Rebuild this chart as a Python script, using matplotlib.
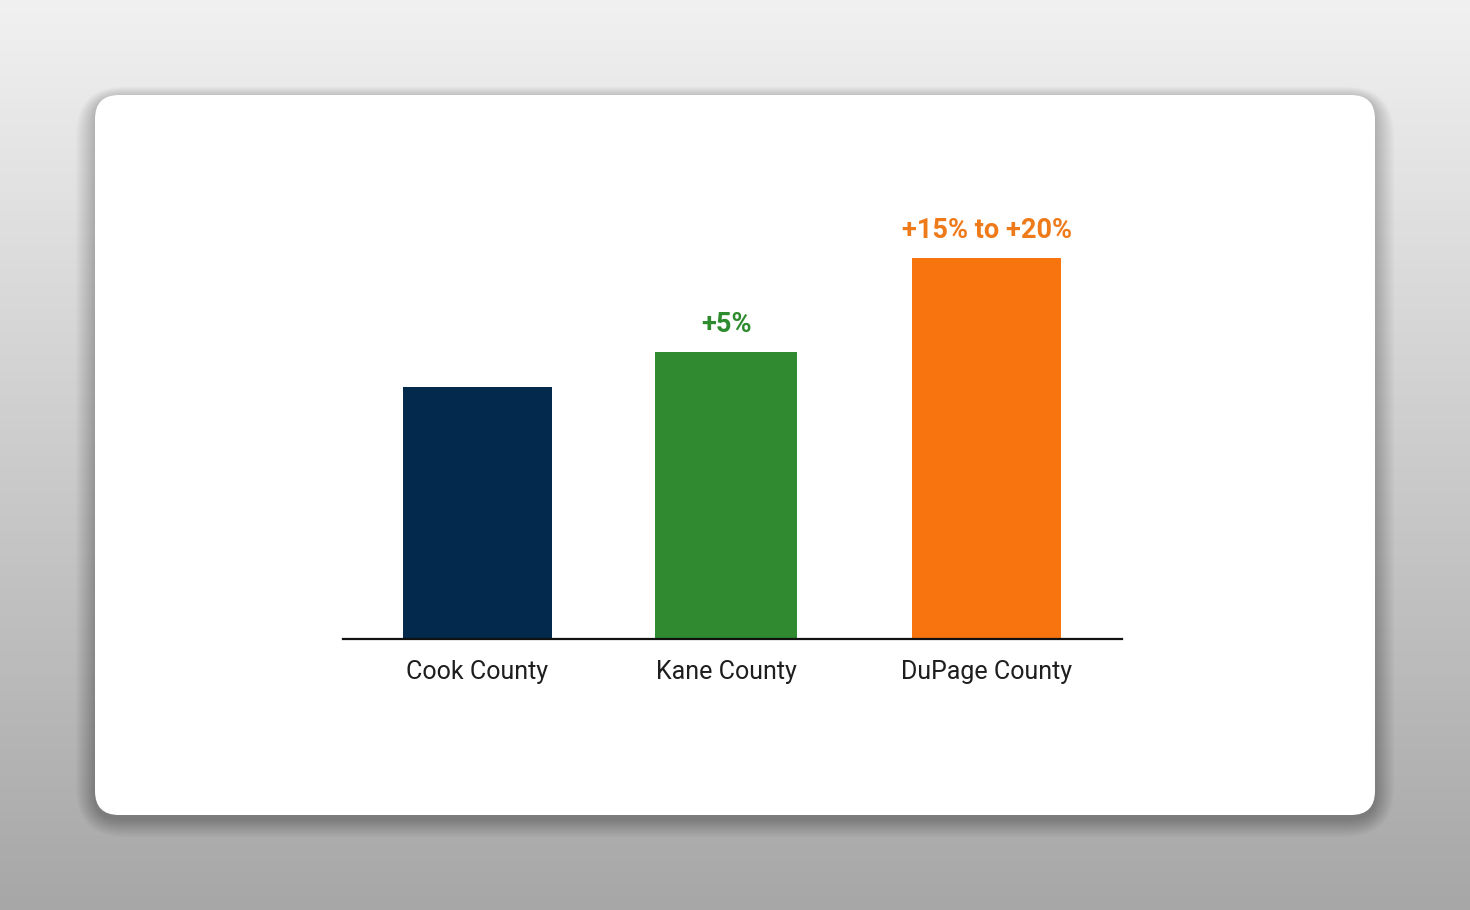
import numpy as np
import matplotlib
matplotlib.use("Agg")
import matplotlib.pyplot as plt
from matplotlib.patches import FancyBboxPatch

# ---- data ----
categories = ["Cook County", "Kane County", "DuPage County"]
values = [100, 113.9, 151.2]
annotations = ["", "+5%", "+15% to +20%"]
bar_colors = ["#03294d", "#2f8a30", "#f7740e"]
label_colors = ["#03294d", "#2e8b2e", "#ef7a1a"]

# ---- style / layout ----
positions = [0, 0.977, 2.0]
widths = [0.585, 0.558, 0.585]
W, H = 1470, 910
plt.rcParams['font.family'] = ['Roboto', 'DejaVu Sans']

fig = plt.figure(figsize=(W / 100, H / 100), dpi=100)

# background gradient
bg = fig.add_axes([0, 0, 1, 1])
grad = np.linspace(0, 1, 256).reshape(-1, 1)
top = np.array([0.945, 0.945, 0.945])
bot = np.array([0.655, 0.655, 0.655])
img = top + (bot - top) * grad
img = np.repeat(img[:, None, :], 2, axis=1).reshape(256, 2, 3)
bg.imshow(img, aspect='auto', extent=[0, W, H, 0], zorder=0)
bg.set_xlim(0, W)
bg.set_ylim(H, 0)
bg.axis('off')

# card shadow and card
cx0, cy0, cx1, cy1 = 95, 95, 1375, 815
r = 24
n = 26
for i in range(n, 0, -1):
    sh = FancyBboxPatch((cx0 - i * 0.75, cy0 - i * 0.45 + 3), (cx1 - cx0) + i * 1.5, (cy1 - cy0) + i * 1.2,
                        boxstyle=f"round,pad=0,rounding_size={r + i}",
                        facecolor='black', edgecolor='none', alpha=0.008, zorder=1)
    bg.add_patch(sh)
card = FancyBboxPatch((cx0, cy0), cx1 - cx0, cy1 - cy0,
                      boxstyle=f"round,pad=0,rounding_size={r}",
                      facecolor='white', edgecolor='none', zorder=2)
bg.add_patch(card)

# chart axes
ax_left, ax_right, ax_base, ax_top = 343, 1122, 639, 180
ax = fig.add_axes([ax_left / W, 1 - ax_base / H, (ax_right - ax_left) / W, (ax_base - ax_top) / H])
ax.patch.set_alpha(0)
px_per_unit = 2.52
ax.set_ylim(0, (ax_base - ax_top) / px_per_unit)
ax.set_xlim(-0.5285, 2.532)

bars = ax.bar(positions, values, width=widths, color=bar_colors, zorder=3)
for b, txt, c in zip(bars, annotations, label_colors):
    if txt:
        ax.text(b.get_x() + b.get_width() / 2, b.get_height() + 5.5, txt,
                ha='center', va='bottom', fontsize=19.5, fontweight='bold', color=c)

ax.set_xticks(positions)
ax.set_xticklabels(categories, fontsize=18, color='#1e1e1e')
ax.tick_params(axis='x', length=0, pad=15)
ax.set_yticks([])
for s in ['top', 'right', 'left']:
    ax.spines[s].set_visible(False)
ax.spines['bottom'].set_linewidth(1.6)
ax.spines['bottom'].set_color('#111111')
ax.spines['bottom'].set_zorder(4)

fig.savefig("out.png", dpi=100)
